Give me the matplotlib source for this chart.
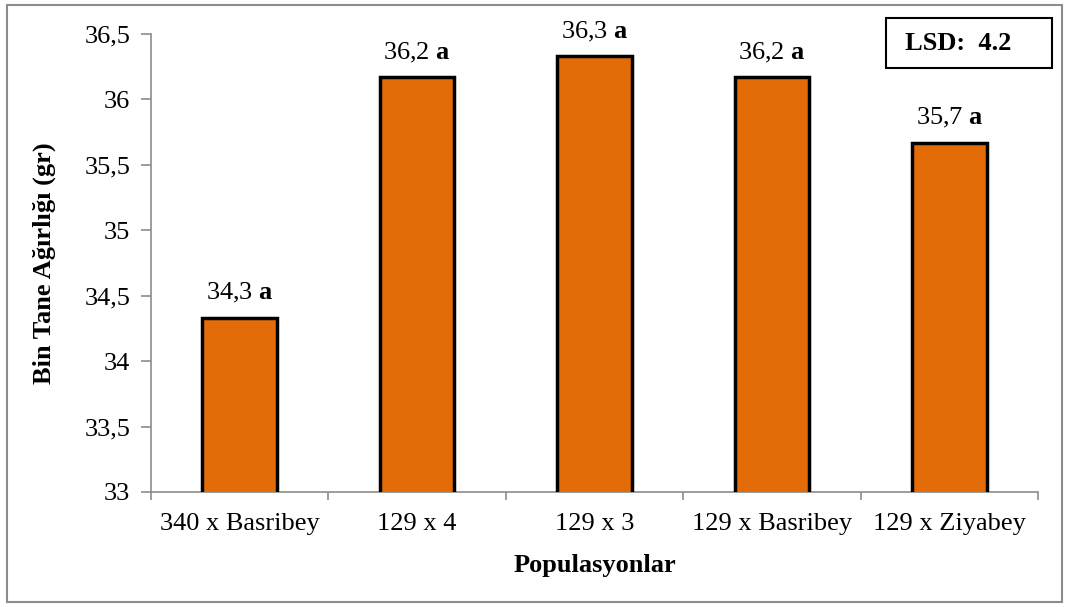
import matplotlib
matplotlib.use("Agg")
import matplotlib.pyplot as plt
from matplotlib.patches import Rectangle
from matplotlib.ticker import FixedLocator
import numpy as np

# Veriler
populasyonlar = ["340 x Basribey", "129 x 4", "129 x 3", "129 x Basribey", "129 x Ziyabey"]
ortalama = [34.33, 36.17, 36.33, 36.17, 35.67]
etiketler = ["34,3", "36,2", "36,3", "36,2", "35,7"]
harfler = ["a", "a", "a", "a", "a"]
y_ticks = [33, 33.5, 34, 34.5, 35, 35.5, 36, 36.5]
y_tick_labels = ["33", "33,5", "34", "34,5", "35", "35,5", "36", "36,5"]
lsd_text = "LSD:  4.2"

plt.rcParams['font.family'] = ['Liberation Serif', 'DejaVu Serif']
plt.rcParams['mathtext.fontset'] = 'custom'
plt.rcParams['mathtext.rm'] = 'Liberation Serif'
plt.rcParams['mathtext.bf'] = 'Liberation Serif:bold'

AXIS_GRAY = "#8c8c8c"
BAR_COLOR = "#E36C09"
FS = 19

fig = plt.figure(figsize=(10.67, 6.07), dpi=100)
ax = fig.add_axes([0.1415, 0.1895, 0.8315, 0.7545])

x = np.arange(len(populasyonlar))
ax.bar(x, ortalama, width=0.42, color=BAR_COLOR, edgecolor="black", linewidth=2.5, zorder=3)

for xi, val, lab, h in zip(x, ortalama, etiketler, harfler):
    ax.annotate(lab + r" $\mathbf{" + h + "}$", (xi, val), xytext=(0, 9),
                textcoords="offset points", ha="center", va="bottom", fontsize=FS)

ax.set_xlim(-0.5, len(populasyonlar) - 0.5)
ax.set_ylim(33, 36.5)
ax.set_yticks(y_ticks)
ax.set_yticklabels(y_tick_labels)

ax.set_xticks(x)
ax.set_xticklabels(populasyonlar)
ax.xaxis.set_minor_locator(FixedLocator(np.arange(-0.5, len(populasyonlar), 1.0)))
ax.tick_params(axis="x", which="major", length=0, pad=15, labelsize=FS)
ax.tick_params(axis="x", which="minor", length=6, color=AXIS_GRAY, width=1.2)
ax.tick_params(axis="y", length=7, color=AXIS_GRAY, width=1.2, labelsize=FS, pad=8)

for s in ["top", "right"]:
    ax.spines[s].set_visible(False)
for s in ["left", "bottom"]:
    ax.spines[s].set_color(AXIS_GRAY)
    ax.spines[s].set_linewidth(1.2)

ax.set_xlabel("Populasyonlar", fontsize=FS, fontweight="bold", labelpad=14)
ax.set_ylabel("Bin Tane Ağırlığı (gr)", fontsize=FS, fontweight="bold", labelpad=20)

# LSD kutusu
fig.patches.append(Rectangle((886 / 1067, 1 - 68 / 607), 166 / 1067, 50 / 607,
                             transform=fig.transFigure, facecolor="white",
                             edgecolor="black", linewidth=1.5))
fig.text(958 / 1067, 1 - 44 / 607, lsd_text, fontsize=FS, fontweight="bold",
         ha="center", va="center")

# Dış çerçeve
fig.patches.append(Rectangle((7 / 1067, 5 / 607), 1055 / 1067, 597 / 607,
                             transform=fig.transFigure, fill=False,
                             edgecolor=AXIS_GRAY, linewidth=1.5))

fig.savefig("out.png", dpi=100)
